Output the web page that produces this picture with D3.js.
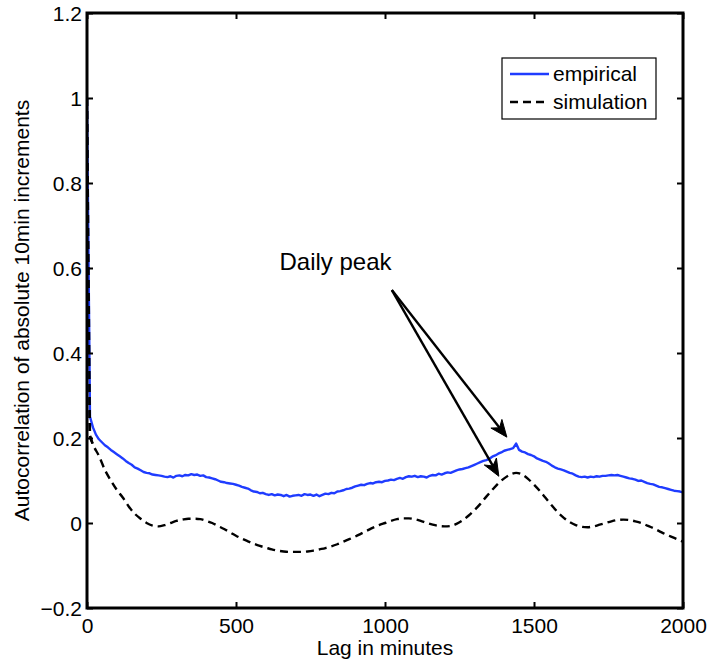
<!DOCTYPE html>
<html>
<head>
<meta charset="utf-8">
<script src="https://cdn.jsdelivr.net/npm/d3@7"></script>
<style>
  html, body { margin: 0; padding: 0; background: #fff; }
  svg { display: block; font-family: "Liberation Sans", Arial, Helvetica, sans-serif; }
</style>
</head>
<body>
<svg id="chart" width="708" height="662"></svg>
<script>
// ---------------- data ----------------
const empLagStep = 10;
const empiricalValues = [
  1.0, 0.25, 0.225, 0.208, 0.197, 0.19, 0.183, 0.178, 0.172, 0.167,
  0.162, 0.157, 0.152, 0.146, 0.141, 0.137, 0.131, 0.128, 0.124, 0.12,
  0.118, 0.117, 0.114, 0.113, 0.112, 0.111, 0.109, 0.108, 0.11, 0.107,
  0.111, 0.112, 0.11, 0.113, 0.112, 0.115, 0.113, 0.114, 0.111, 0.112,
  0.108, 0.107, 0.105, 0.103, 0.1, 0.097, 0.096, 0.094, 0.093, 0.092,
  0.09, 0.088, 0.085, 0.083, 0.081, 0.077, 0.074, 0.073, 0.07, 0.071,
  0.068, 0.066, 0.068, 0.065, 0.067, 0.066, 0.063, 0.066, 0.062, 0.064,
  0.065, 0.066, 0.064, 0.068, 0.066, 0.067, 0.064, 0.067, 0.063, 0.066,
  0.069, 0.068, 0.071, 0.07, 0.074, 0.075, 0.077, 0.08, 0.081, 0.083,
  0.086, 0.088, 0.09, 0.089, 0.092, 0.094, 0.093, 0.096, 0.097, 0.096,
  0.099, 0.1, 0.102, 0.101, 0.104, 0.106, 0.104, 0.108, 0.11, 0.109,
  0.111, 0.108, 0.11, 0.109, 0.107, 0.111, 0.113, 0.112, 0.116, 0.114,
  0.117, 0.119, 0.118, 0.121, 0.124, 0.126, 0.127, 0.129, 0.131, 0.134,
  0.137, 0.14, 0.143, 0.146, 0.148, 0.151, 0.156, 0.159, 0.163, 0.166,
  0.17, 0.172, 0.174, 0.176, 0.187, 0.172, 0.168, 0.166, 0.162, 0.16,
  0.157, 0.152, 0.149, 0.146, 0.144, 0.14, 0.135, 0.131, 0.128, 0.126,
  0.124, 0.121, 0.118, 0.116, 0.112, 0.109, 0.108, 0.109, 0.107, 0.109,
  0.108, 0.11, 0.109, 0.111, 0.111, 0.112, 0.113, 0.112, 0.113, 0.111,
  0.109, 0.107, 0.105, 0.104, 0.102, 0.099, 0.1, 0.097, 0.094, 0.092,
  0.091, 0.088, 0.085, 0.084, 0.082, 0.08, 0.078, 0.076, 0.075, 0.074,
  0.072
];

const simLags = [0, 10, 20, 40, 60, 80, 100, 120, 140, 160, 180, 200, 220, 240, 260, 280, 300,
  320, 340, 360, 380, 400, 420, 440, 460, 480, 500, 520, 540, 560, 580, 600, 620, 640, 660,
  680, 700, 720, 740, 760, 780, 800, 820, 840, 860, 880, 900, 920, 940, 960, 980, 1000,
  1020, 1040, 1060, 1080, 1100, 1120, 1140, 1160, 1180, 1200, 1220, 1240, 1260, 1280, 1300,
  1320, 1340, 1360, 1380, 1400, 1420, 1440, 1460, 1480, 1500, 1520, 1540, 1560, 1580, 1600,
  1620, 1640, 1660, 1680, 1700, 1720, 1740, 1760, 1780, 1800, 1820, 1840, 1860, 1880, 1900,
  1920, 1940, 1960, 1980, 2000];
const simulationValues = [1.0, 0.205, 0.185, 0.158, 0.125, 0.1, 0.078, 0.06, 0.039, 0.022, 0.01,
  0.0, -0.006, -0.008, -0.005, 0.0, 0.005, 0.008, 0.01, 0.01, 0.009, 0.005, 0.0, -0.007,
  -0.014, -0.022, -0.03, -0.037, -0.043, -0.049, -0.054, -0.058, -0.062, -0.065, -0.067,
  -0.068, -0.068, -0.068, -0.067, -0.065, -0.062, -0.059, -0.055, -0.05, -0.044, -0.038,
  -0.032, -0.025, -0.018, -0.011, -0.005, 0.0, 0.005, 0.009, 0.011, 0.011, 0.009, 0.005,
  0.0, -0.004, -0.007, -0.008, -0.007, -0.002, 0.006, 0.017, 0.03, 0.045, 0.062, 0.078,
  0.093, 0.105, 0.114, 0.118, 0.114, 0.104, 0.09, 0.075, 0.058, 0.041, 0.025, 0.012, 0.002,
  -0.005, -0.009, -0.01, -0.008, -0.004, 0.0, 0.004, 0.007, 0.008, 0.007, 0.004, 0.0,
  -0.006, -0.012, -0.019, -0.026, -0.032, -0.038, -0.044];

const xTicks = [0, 500, 1000, 1500, 2000];
const xTickLabels = ["0", "500", "1000", "1500", "2000"];
const yTicks = [-0.2, 0, 0.2, 0.4, 0.6, 0.8, 1.0, 1.2];
const yTickLabels = ["\u22120.2", "0", "0.2", "0.4", "0.6", "0.8", "1", "1.2"];
const seriesNames = ["empirical", "simulation"];
const annotationText = "Daily peak";
// annotation in data coordinates: [lag, value]
const arrowStart = [1023, 0.548];
const arrowTips = [[1409, 0.202], [1382, 0.11]];
const annotationPos = [646, 0.595];

// ---------------- chart ----------------
const svg = d3.select("#chart");
const L = 87, R = 683, T = 13, B = 608;
const x = d3.scaleLinear().domain([0, 2000]).range([L, R]);
const y = d3.scaleLinear().domain([-0.2, 1.2]).range([B, T]);
const FS = "21px";

const empData = empiricalValues.map((v, i) => [i * empLagStep, v]);
const simData = simLags.map((l, i) => [l, simulationValues[i]]);

const defs = svg.append("defs");
defs.append("clipPath").attr("id", "clip").append("rect")
  .attr("x", L).attr("y", T).attr("width", R - L).attr("height", B - T);

const g = svg.append("g").attr("clip-path", "url(#clip)");
g.append("path").datum(simData)
  .attr("d", d3.line().x(d => x(d[0])).y(d => y(d[1])).curve(d3.curveMonotoneX))
  .attr("fill", "none").attr("stroke", "#000").attr("stroke-width", 2.4)
  .attr("stroke-dasharray", "8,5");
g.append("path").datum(empData)
  .attr("d", d3.line().x(d => x(d[0])).y(d => y(d[1])))
  .attr("fill", "none").attr("stroke", "#1f3cff").attr("stroke-width", 2.4)
  .attr("stroke-linejoin", "round");
// simulation dashes drawn over the vertical drop at lag 0
g.append("path").datum(simData.slice(0, 3))
  .attr("d", d3.line().x(d => x(d[0])).y(d => y(d[1])))
  .attr("fill", "none").attr("stroke", "#000").attr("stroke-width", 2.4)
  .attr("stroke-dasharray", "8,5");

// axes (MATLAB style box with inward ticks)
const tickLen = 6;
const axB = svg.append("g").attr("transform", `translate(0,${B})`)
  .call(d3.axisBottom(x).tickValues(xTicks).tickSizeInner(-tickLen).tickSizeOuter(0)
    .tickFormat((d, i) => xTickLabels[i]).tickPadding(10));
const axT = svg.append("g").attr("transform", `translate(0,${T})`)
  .call(d3.axisTop(x).tickValues(xTicks).tickSizeInner(-tickLen).tickSizeOuter(0).tickFormat(""));
const axL = svg.append("g").attr("transform", `translate(${L},0)`)
  .call(d3.axisLeft(y).tickValues(yTicks).tickSizeInner(-tickLen).tickSizeOuter(0)
    .tickFormat((d, i) => yTickLabels[i]).tickPadding(5));
const axR = svg.append("g").attr("transform", `translate(${R},0)`)
  .call(d3.axisRight(y).tickValues(yTicks).tickSizeInner(-tickLen).tickSizeOuter(0).tickFormat(""));
[axB, axT, axL, axR].forEach(a => {
  a.select(".domain").remove();
  a.selectAll(".tick line").attr("stroke", "#000").attr("stroke-width", 2);
  a.selectAll("text").attr("fill", "#000").style("font-size", FS)
    .style("font-family", "'Liberation Sans', Arial, sans-serif");
});
axL.selectAll("text").attr("dy", "0.36em");

// frame
svg.append("rect").attr("x", L).attr("y", T).attr("width", R - L).attr("height", B - T)
  .attr("fill", "none").attr("stroke", "#000").attr("stroke-width", 3);

// axis labels
svg.append("text").attr("x", (L + R) / 2).attr("y", 655).attr("text-anchor", "middle")
  .style("font-size", FS).text("Lag in minutes");
svg.append("text").attr("transform", `translate(29,${(T + B) / 2}) rotate(-90)`)
  .attr("text-anchor", "middle").style("font-size", FS)
  .text("Autocorrelation of absolute 10min increments");

// annotation
svg.append("text").attr("x", x(annotationPos[0])).attr("y", y(annotationPos[1]))
  .style("font-size", "24px").text(annotationText);
arrowTips.forEach(tip => {
  const x0 = x(arrowStart[0]), y0 = y(arrowStart[1]);
  const x1 = x(tip[0]), y1 = y(tip[1]);
  const ang = Math.atan2(y1 - y0, x1 - x0);
  const hl = 17, hw = 7;
  const bx = x1 - hl * Math.cos(ang), by = y1 - hl * Math.sin(ang);
  svg.append("line").attr("x1", x0).attr("y1", y0).attr("x2", x1 - 3 * Math.cos(ang)).attr("y2", y1 - 3 * Math.sin(ang))
    .attr("stroke", "#000").attr("stroke-width", 2.4);
  const p1 = [bx + hw * Math.sin(ang), by - hw * Math.cos(ang)];
  const p2 = [bx - hw * Math.sin(ang), by + hw * Math.cos(ang)];
  const mx = x1 - hl * 0.7 * Math.cos(ang), my = y1 - hl * 0.7 * Math.sin(ang);
  svg.append("path")
    .attr("d", `M${p1[0]},${p1[1]}L${x1},${y1}L${p2[0]},${p2[1]}L${mx},${my}Z`)
    .attr("fill", "#000").attr("stroke", "#000").attr("stroke-width", 1);
});

// legend
const lg = svg.append("g");
lg.append("rect").attr("x", 502).attr("y", 58).attr("width", 154).attr("height", 61)
  .attr("fill", "#fff").attr("stroke", "#000").attr("stroke-width", 1.2);
const legStyles = [
  { color: "#1f3cff", dash: null },
  { color: "#000", dash: "8,5" }
];
seriesNames.forEach((name, i) => {
  const ly = 74 + i * 28;
  lg.append("line").attr("x1", 510).attr("x2", 549).attr("y1", ly).attr("y2", ly)
    .attr("stroke", legStyles[i].color).attr("stroke-width", 2.4)
    .attr("stroke-dasharray", legStyles[i].dash);
  lg.append("text").attr("x", 553).attr("y", ly).attr("dy", "0.35em")
    .style("font-size", FS).text(name);
});
</script>
</body>
</html>
